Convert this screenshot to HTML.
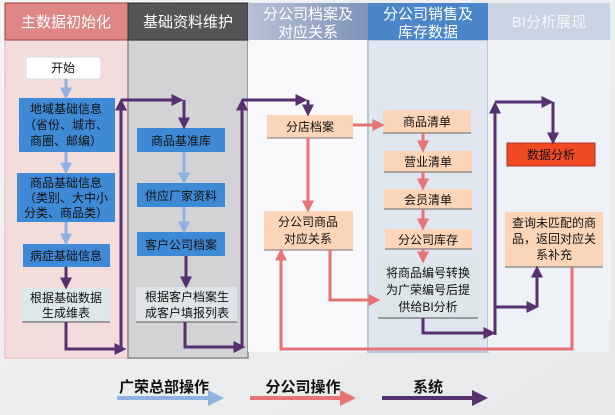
<!DOCTYPE html>
<html><head><meta charset="utf-8"><style>
html,body{margin:0;padding:0;background:#eef0f2}
svg{display:block}
text{font-family:"Liberation Sans","Noto Sans CJK SC",sans-serif}
</style></head><body>
<svg width="615" height="415" viewBox="0 0 615 415" xmlns="http://www.w3.org/2000/svg">
<defs>
<linearGradient id="bg" x1="0" y1="0" x2="1" y2="1"><stop offset="0" stop-color="#f3f4f6"/><stop offset="1" stop-color="#e6e8ea"/></linearGradient>
<linearGradient id="h3" x1="0" y1="0" x2="1" y2="0"><stop offset="0" stop-color="#b7c2d6"/><stop offset="1" stop-color="#7f93b8"/></linearGradient>
<marker id="mp" markerWidth="4" markerHeight="4" refX="2.5" refY="2" orient="auto" markerUnits="strokeWidth"><path d="M0,0 L4,2 L0,4 z" fill="#57306f"/></marker>
<marker id="mr" markerWidth="4" markerHeight="4" refX="2.5" refY="2" orient="auto" markerUnits="strokeWidth"><path d="M0,0 L4,2 L0,4 z" fill="#e67474"/></marker>
<marker id="mb" markerWidth="4" markerHeight="4" refX="2.5" refY="2" orient="auto" markerUnits="strokeWidth"><path d="M0,0 L4,2 L0,4 z" fill="#8fb2e2"/></marker>
</defs>
<rect width="615" height="415" fill="url(#bg)"/>
<!-- column bodies -->
<rect x="5" y="40" width="123" height="318" fill="#f3dcdc" stroke="#e8b8b8"/>
<rect x="128" y="40" width="120" height="318" fill="#d3d3d5" stroke="#8a8a8a" stroke-width="1.5"/>
<rect x="248" y="40" width="120" height="312" fill="#f8f8fa"/>
<rect x="368" y="40" width="120" height="312" fill="#dfe6ef" stroke="#b8c8dc" stroke-width="2"/>
<rect x="488" y="40" width="122" height="312" fill="#eef1f5"/>
<!-- headers -->
<rect x="5" y="3" width="123" height="37" fill="#de8686" stroke="#a04040"/>
<rect x="128" y="3" width="120" height="37" fill="#555" stroke="#333"/>
<rect x="248" y="3" width="120" height="37" fill="url(#h3)"/>
<rect x="368" y="3" width="120" height="37" fill="#4a86c8"/>
<rect x="488" y="3" width="122" height="37" fill="#c9d4e3"/>
<g fill="#fff" font-size="15" text-anchor="middle">
<text x="66" y="27">主数据初始化</text>
<text x="188" y="27">基础资料维护</text>
<text x="308" y="19">分公司档案及</text><text x="308" y="37">对应关系</text>
<text x="428" y="19">分公司销售及</text><text x="428" y="37">库存数据</text>
<text x="549" y="27" fill="#f4f6fa">BI分析展现</text>
</g>
<!-- boxes -->
<g font-size="12" text-anchor="middle" fill="#111">
<rect x="26" y="57" width="75" height="22" rx="3" fill="#fff" stroke="#ddd"/><text x="63" y="72">开始</text>
<rect x="19" y="98" width="96" height="54" fill="#3f8ad6"/><text x="66" y="113" text-anchor="middle">地域基础信息</text><text x="66" y="129">（省份、城市、</text><text x="66" y="145">商圈、邮编）</text>
<rect x="17" y="173" width="98" height="49" fill="#3f8ad6"/><text x="66" y="187">商品基础信息</text><text x="66" y="202">（类别、大中小</text><text x="66" y="217">分类、商品类）</text>
<rect x="23" y="244" width="87" height="23" fill="#3f8ad6"/><text x="66" y="260">病症基础信息</text>
<rect x="22" y="288" width="88" height="34" fill="#dde8ea"/><line x1="22" y1="322" x2="110" y2="322" stroke="#555"/><text x="66" y="302">根据基础数据</text><text x="66" y="317">生成维表</text>
<rect x="137" y="128" width="88" height="24" fill="#3f8ad6"/><text x="181" y="145">商品基准库</text>
<rect x="137" y="183" width="88" height="24" fill="#3f8ad6"/><text x="181" y="200">供应厂家资料</text>
<rect x="137" y="232" width="88" height="24" fill="#3f8ad6"/><text x="181" y="249">客户公司档案</text>
<rect x="136" y="287" width="101" height="35" fill="#e0e4e6"/><line x1="136" y1="322" x2="237" y2="322" stroke="#555"/><text x="187" y="301">根据客户档案生</text><text x="187" y="317">成客户填报列表</text>
<rect x="267" y="115" width="86" height="23" fill="#fbd5b8"/><line x1="267" y1="138" x2="353" y2="138" stroke="#777"/><text x="310" y="131">分店档案</text>
<rect x="264" y="211" width="89" height="39" fill="#fbd5b8"/><line x1="264" y1="250" x2="353" y2="250" stroke="#777"/><text x="308" y="226">分公司商品</text><text x="308" y="243">对应关系</text>
<rect x="383" y="110" width="88" height="23" fill="#fbd5b8"/><line x1="383" y1="133" x2="471" y2="133" stroke="#666"/><text x="427" y="126">商品清单</text>
<rect x="384" y="151" width="88" height="21" fill="#fbd5b8"/><line x1="384" y1="172" x2="472" y2="172" stroke="#666"/><text x="428" y="166">营业清单</text>
<rect x="384" y="189" width="88" height="20" fill="#fbd5b8"/><line x1="384" y1="209" x2="472" y2="209" stroke="#666"/><text x="428" y="204">会员清单</text>
<rect x="385" y="229" width="87" height="20" fill="#fbd5b8"/><line x1="385" y1="249" x2="472" y2="249" stroke="#666"/><text x="428" y="244">分公司库存</text>
<rect x="378" y="262" width="100" height="56" fill="#dce6e8"/><line x1="378" y1="318" x2="478" y2="318" stroke="#555"/><text x="428" y="277">将商品编号转换</text><text x="428" y="294">为广荣编号后提</text><text x="428" y="311">供给BI分析</text>
<rect x="507" y="143" width="88" height="23" fill="#f04a22" stroke="#a33"/><text x="551" y="159">数据分析</text>
<rect x="505" y="212" width="98" height="55" fill="#fbd5b8"/><line x1="505" y1="267" x2="603" y2="267" stroke="#666"/><text x="554" y="227">查询未匹配的商</text><text x="554" y="243">品，返回对应关</text><text x="554" y="259">系补充</text>
</g>
<!-- blue arrows -->
<g stroke="#8fb2e2" stroke-width="3" fill="none" marker-end="url(#mb)">
<line x1="66" y1="79" x2="66" y2="95"/>
<line x1="66" y1="152" x2="66" y2="170"/>
<line x1="66" y1="222" x2="66" y2="241"/>
<line x1="184" y1="152" x2="184" y2="180"/>
<line x1="184" y1="207" x2="184" y2="229"/>
</g>
<!-- pink arrows -->
<g stroke="#e67474" stroke-width="3" fill="none" marker-end="url(#mr)">
<line x1="353" y1="125" x2="380" y2="125"/>
<line x1="308" y1="138" x2="308" y2="208"/>
<polyline points="330,250 330,300 376,300"/>
<polyline points="572,267 572,349 281,349 281,253"/>
<line x1="423" y1="133" x2="423" y2="148"/>
<line x1="423" y1="172" x2="423" y2="186"/>
<line x1="423" y1="209" x2="423" y2="226"/>
<line x1="423" y1="249" x2="423" y2="259"/>
</g>
<!-- purple arrows -->
<g stroke="#57306f" stroke-width="3" fill="none" marker-end="url(#mp)">
<line x1="66" y1="267" x2="66" y2="285"/>
<polyline points="66,322 66,349 122,349"/>
<polyline points="121,350 121,103"/>
<polyline points="121,100 179,100"/>
<polyline points="184,100 184,125"/>
<line x1="186" y1="256" x2="186" y2="284"/>
<polyline points="185,322 185,347 241,347"/>
<polyline points="242,348 242,103"/>
<polyline points="242,100 303,100"/>
<polyline points="308,100 308,112"/>
<polyline points="423,318 423,333 491,333"/>
<polyline points="495,335 495,106"/>
<polyline points="495,102 549,102"/>
<polyline points="553,102 553,140"/>
<polyline points="495,307 534,307"/>
<polyline points="537,307 537,270"/>
</g>
<!-- legend -->
<g font-size="15" font-weight="bold" fill="#111" text-anchor="middle">
<text x="164" y="392">广荣总部操作</text>
<text x="303" y="392">分公司操作</text>
<text x="428" y="392">系统</text>
</g>
<line x1="117" y1="398" x2="218" y2="398" stroke="#8fb2e2" stroke-width="4" marker-end="url(#mb)"/>
<line x1="250" y1="398" x2="350" y2="398" stroke="#e67474" stroke-width="4" marker-end="url(#mr)"/>
<line x1="382" y1="398" x2="482" y2="398" stroke="#57306f" stroke-width="4" marker-end="url(#mp)"/>
</svg>
</body></html>
